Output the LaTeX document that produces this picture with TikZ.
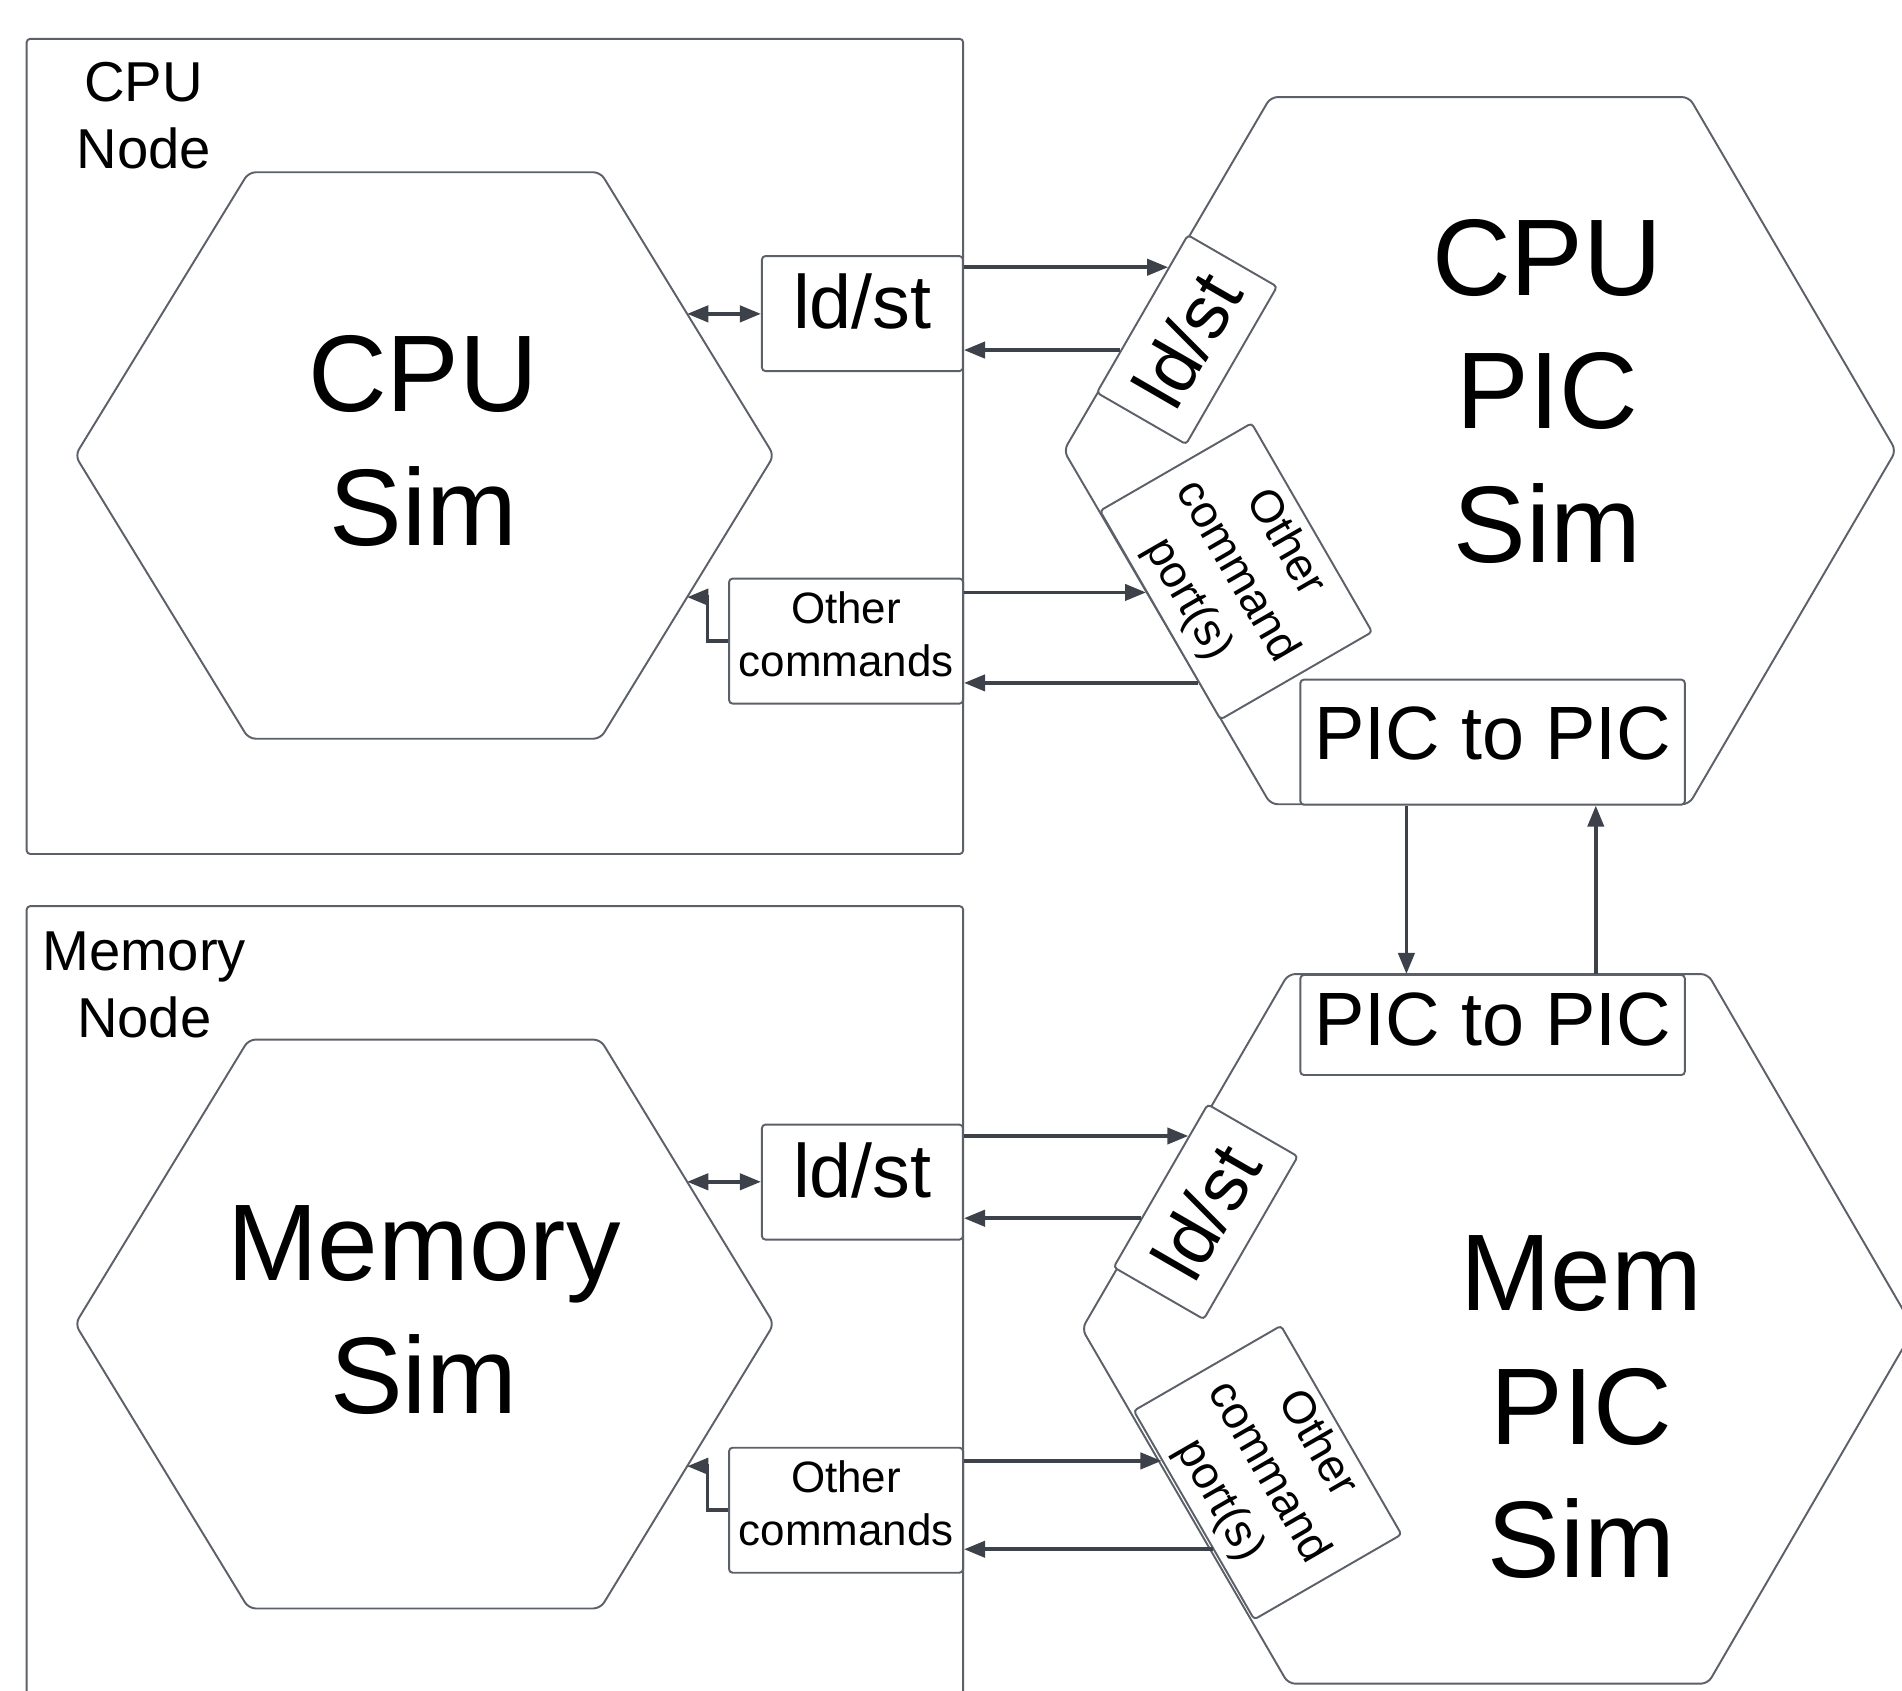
\documentclass[tikz,border=0pt]{standalone}
\usepackage{fontspec}
\setmainfont{Liberation Sans}
\usetikzlibrary{arrows.meta,calc}
\definecolor{outline}{HTML}{5C6068}
\definecolor{wire}{HTML}{3C414A}

\begin{document}
\begin{tikzpicture}[x=0.1213mm,y=-0.1213mm,
  nodeframe/.style={draw=outline,line width=0.55pt,rounded corners=1pt},
  hexline/.style={draw=outline,line width=0.55pt,rounded corners=2pt},
  portbox/.style={draw=outline,fill=white,line width=0.55pt,rounded corners=1pt,inner sep=0pt,align=center},
  bigport/.style={portbox,font=\fontsize{21.5}{26}\selectfont},
  smallport/.style={portbox,font=\fontsize{12.5}{15}\selectfont},
  turnport/.style={portbox,font=\fontsize{13}{16}\selectfont},
  simtext/.style={font=\fontsize{31}{38}\selectfont,align=center},
  nodetext/.style={font=\fontsize{16}{19}\selectfont,align=center},
  wirearrow/.style={draw=wire,line width=1.05pt,-{Triangle[length=6pt,width=4.6pt]}},
  duplex/.style={wirearrow,{Triangle[length=6pt,width=4.6pt]}-{Triangle[length=6pt,width=4.6pt]}}]
  \newcommand{\simhex}[6]{
    \draw[hexline] (#2-#4,#3) coordinate (#1-l) -- (#2-#5,#3-#6) coordinate (#1-tl)
      -- (#2+#5,#3-#6) coordinate (#1-tr) -- (#2+#4,#3) coordinate (#1-r)
      -- (#2+#5,#3+#6) coordinate (#1-br) -- (#2-#5,#3+#6) coordinate (#1-bl) -- cycle;
  }
  \useasboundingbox (0,0) rectangle (1568,1394);

  \draw[nodeframe] (22,32) rectangle (794,704);
  \draw[nodeframe] (22,747) rectangle (794,1430);
  \node[nodetext] (cpulabel) at (118.5,95.5) {CPU\\Node};
  \node[nodetext] (memlabel) at (119,812) {Memory\\Node};

  \simhex{cpusim}{350}{375.5}{288}{145}{233.5}
  \simhex{memsim}{350}{1091.5}{288}{145}{234.5}
  \simhex{cpupic}{1220}{371.5}{343}{172.5}{291.5}
  \simhex{mempic}{1235}{1095.5}{343}{173}{292.5}

  \node[simtext] (cpusimtext) at (349,363.5) {CPU\\Sim};
  \node[simtext] (memsimtext) at (349.5,1080) {Memory\\Sim};
  \node[simtext] (cpupictext) at (1275.5,322.5) {CPU\\PIC\\Sim};
  \node[simtext] (mempictext) at (1303.5,1160) {Mem\\PIC\\Sim};

  \node[bigport,text depth=7pt,minimum width=20.1mm,minimum height=11.5mm] (cpuls) at (711,258.5) {ld/st};
  \node[bigport,text depth=7pt,minimum width=20.1mm,minimum height=11.5mm] (memls) at (711,974.5) {ld/st};
  \node[smallport,text depth=4pt,minimum width=23.4mm,minimum height=12.5mm] (cpuoc) at (697.5,528.5) {Other\\commands};
  \node[smallport,text depth=4pt,minimum width=23.4mm,minimum height=12.5mm] (memoc) at (697.5,1245) {Other\\commands};

  \node[bigport,rotate=60,minimum width=18.2mm,minimum height=10.3mm] (cpupls) at (978.5,280) {ld/st};
  \node[bigport,rotate=60,minimum width=18.8mm,minimum height=10.4mm] (mempls) at (994,999) {ld/st};
  \node[turnport,rotate=-60,minimum width=24.1mm,minimum height=17.5mm] (cpupoc) at (1019,471) {Other\\command\\port(s)};
  \node[turnport,rotate=-60,minimum width=24.1mm,minimum height=17mm] (mempoc) at (1045,1214) {Other\\command\\port(s)};

  \node[bigport,text depth=5pt,minimum width=38.45mm,minimum height=12.5mm] (cpup2p) at (1230.5,611.8) {PIC to PIC};
  \node[bigport,text depth=3.5pt,minimum width=38.45mm,minimum height=10mm] (memp2p) at (1230.5,845) {PIC to PIC};

  \coordinate (cpuhook) at ($(cpusim-tr)!0.5!(cpusim-r)$);
  \coordinate (memhook) at ($(memsim-tr)!0.5!(memsim-r)$);
  \draw[duplex] (cpuhook) -- (cpuhook -| cpuls.west);
  \draw[duplex] (memhook) -- (memhook -| memls.west);
  \draw[wirearrow] (cpuoc.west) -- ++(-17,0) |- ($(cpusim-r)!0.5!(cpusim-br)$);
  \draw[wirearrow] (memoc.west) -- ++(-17,0) |- ($(memsim-r)!0.5!(memsim-br)$);

  \coordinate (cpuin) at ($(cpupls.north west)!0.79!(cpupls.north east)$);
  \coordinate (cpuout) at ($(cpupls.north west)!0.27!(cpupls.north east)$);
  \coordinate (cpucmdin) at ($(cpupoc.south west)!0.39!(cpupoc.south east)$);
  \coordinate (cpucmdout) at ($(cpupoc.south west)!0.82!(cpupoc.south east)$);
  \draw[wirearrow] (cpuls.east |- cpuin) -- (cpuin);
  \draw[wirearrow] (cpuout) -- (cpuout -| cpuls.east);
  \draw[wirearrow] (cpuoc.east |- cpucmdin) -- (cpucmdin);
  \draw[wirearrow] (cpucmdout) -- (cpucmdout -| cpuoc.east);

  \coordinate (memin) at ($(mempls.north west)!0.80!(mempls.north east)$);
  \coordinate (memout) at ($(mempls.north west)!0.30!(mempls.north east)$);
  \coordinate (memcmdin) at ($(mempoc.south west)!0.24!(mempoc.south east)$);
  \coordinate (memcmdout) at ($(mempoc.south west)!0.66!(mempoc.south east)$);
  \draw[wirearrow] (memls.east |- memin) -- (memin);
  \draw[wirearrow] (memout) -- (memout -| memls.east);
  \draw[wirearrow] (memoc.east |- memcmdin) -- (memcmdin);
  \draw[wirearrow] (memcmdout) -- (memcmdout -| memoc.east);

  \coordinate (downlink) at ($(cpup2p.south west)!0.277!(cpup2p.south east)$);
  \coordinate (uplink) at ($(cpup2p.south west)!0.767!(cpup2p.south east)$);
  \draw[wirearrow] (downlink) -- (downlink |- memp2p.north);
  \draw[wirearrow] (uplink |- memp2p.north) -- (uplink);
\end{tikzpicture}
\end{document}
